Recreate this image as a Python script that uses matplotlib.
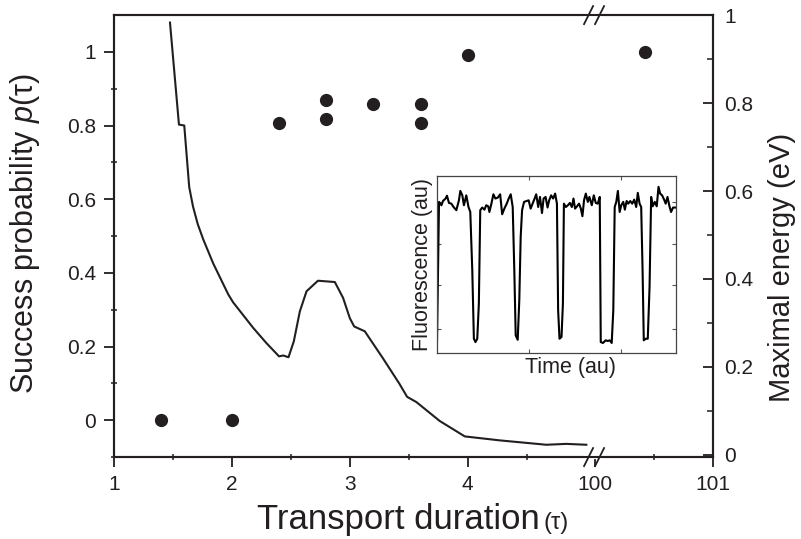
import numpy as np
import matplotlib
matplotlib.use('Agg')
import matplotlib.pyplot as plt
from matplotlib.ticker import FixedLocator, FuncFormatter

plt.rcParams['font.family'] = ['Liberation Sans', 'DejaVu Sans']
plt.rcParams['mathtext.fontset'] = 'custom'
plt.rcParams['mathtext.it'] = 'Liberation Sans:italic'
plt.rcParams['mathtext.rm'] = 'Liberation Sans'

INK = '#231f20'

# Erfolgssannolikhet (vänster axel)
tau_pts = [1.4, 2.0, 2.4, 2.8, 2.8, 3.2, 3.6, 3.6, 4.0, 100.42]
p_pts = [0.0, 0.0, 0.807, 0.87, 0.818, 0.858, 0.858, 0.807, 0.992, 1.0]
p_err = [0.0, 0.0, 0.012, 0.006, 0.006, 0.006, 0.006, 0.015, 0.006, 0.006]

# Maximal energi (höger axel)
tau_curve = [1.475, 1.551, 1.596, 1.638, 1.67, 1.71, 1.757, 1.842, 1.969, 2.01,
             2.18, 2.29, 2.40, 2.435, 2.48, 2.525, 2.576, 2.633, 2.73, 2.873,
             2.943, 3.0, 3.037, 3.127, 3.28, 3.42, 3.486, 3.565, 3.763, 3.975,
             4.27, 4.667, 4.836, 5.006]
energy = [0.983, 0.751, 0.749, 0.609, 0.565, 0.525, 0.49, 0.435, 0.365, 0.347,
          0.289, 0.255, 0.224, 0.226, 0.222, 0.258, 0.326, 0.372, 0.396, 0.393,
          0.357, 0.311, 0.292, 0.281, 0.22, 0.162, 0.132, 0.12, 0.077, 0.042,
          0.033, 0.023, 0.025, 0.023]

# Inset: fluorescens mot tid
t_in = [0, 1, 2.2, 3, 4.3, 5, 6, 7.2, 8.3, 9.7, 11, 11.7, 12.7, 13.5, 14.7, 15.8,
        16.7, 17.7, 18.5, 19.3, 20.2, 21, 21.7, 22.7, 23.8, 24.7, 25.7, 26.3, 27.3,
        28.3, 29.3, 30.5, 31.7, 32.7, 33.8, 35, 36, 37, 38, 38.8, 39.5, 40.5, 41.3,
        42, 42.7, 43.7, 45, 46, 47, 48, 49, 49.8, 50.8, 51.7, 52.7, 53.5, 54.5,
        55.5, 56.3, 57.3, 58.3, 59.3, 60.2, 60.8, 61.5, 62.5, 63.2, 63.7, 64.7,
        65.7, 66.7, 67.7, 68.5, 69.3, 70.3, 71.3, 72.2, 73, 73.8, 74.7, 75.7, 76.5,
        77.7, 78.7, 79.7, 80.7, 81.7, 82.2, 83.3, 84.7, 85.7, 86.7, 87.7, 88.5,
        89.2, 90, 90.8, 91.7, 92.5, 93.5, 94.3, 95.2, 96, 97, 98, 99, 100, 100.8,
        101.7, 102.5, 103.2, 103.8, 104.8, 105.8, 106.7, 107.5, 108.3, 109.3,
        110.3, 111.2, 112, 113, 114, 114.8, 115.7, 116.7, 117.5, 118.5, 119.7]
f_in = [0.07, 0.855, 0.836, 0.86, 0.874, 0.89, 0.849, 0.845, 0.826, 0.808, 0.864,
        0.917, 0.892, 0.836, 0.892, 0.826, 0.798, 0.468, 0.081, 0.062, 0.081, 0.279,
        0.808, 0.823, 0.811, 0.836, 0.83, 0.798, 0.845, 0.898, 0.874, 0.879, 0.898,
        0.785, 0.817, 0.845, 0.874, 0.898, 0.826, 0.468, 0.1, 0.075, 0.298, 0.657,
        0.808, 0.855, 0.86, 0.864, 0.817, 0.845, 0.874, 0.898, 0.826, 0.883, 0.792,
        0.874, 0.883, 0.823, 0.864, 0.892, 0.874, 0.902, 0.845, 0.242, 0.081, 0.091,
        0.279, 0.845, 0.826, 0.836, 0.849, 0.826, 0.874, 0.817, 0.83, 0.845, 0.817,
        0.774, 0.864, 0.902, 0.855, 0.883, 0.836, 0.892, 0.849, 0.845, 0.883, 0.062,
        0.057, 0.072, 0.068, 0.072, 0.057, 0.242, 0.826, 0.855, 0.917, 0.798, 0.836,
        0.855, 0.811, 0.86, 0.845, 0.86, 0.845, 0.868, 0.826, 0.906, 0.845, 0.826,
        0.468, 0.072, 0.081, 0.081, 0.374, 0.883, 0.83, 0.855, 0.83, 0.94, 0.902,
        0.892, 0.868, 0.845, 0.883, 0.83, 0.798, 0.823, 0.823]

x_major = [1, 2, 3, 4, 100, 101]
x_minor = [1.5, 2.5, 3.5, 4.5, 100.5]
y_major = [0, 0.2, 0.4, 0.6, 0.8, 1.0]
y_minor = [-0.1, 0.1, 0.3, 0.5, 0.7, 0.9]
e_major = [0, 0.2, 0.4, 0.6, 0.8, 1.0]
e_minor = [0.1, 0.3, 0.5, 0.7, 0.9]

# brytpunkt på x-axeln: 100 hamnar direkt efter ~5.08
XB = 5.08


def fwd(x):
    x = np.asarray(x, dtype=float)
    return np.where(x > 50, x - 100 + XB, x)


def inv(u):
    u = np.asarray(u, dtype=float)
    return np.where(u > XB, u - XB + 100, u)


fmt = FuncFormatter(lambda v, pos: '{:g}'.format(round(v, 3)))

fig = plt.figure(figsize=(8.01, 5.39), dpi=100)
ax = fig.add_axes([0.1423, 0.152, 0.7478, 0.820])
ax2 = ax.twinx()

ax.set_xscale('function', functions=(fwd, inv))
ax.set_xlim(1, 101)
ax.set_ylim(-0.1, 1.1)
ax2.set_ylim(-0.005, 1.0)

ax.errorbar(tau_pts, p_pts, yerr=p_err, fmt='o', color=INK, ms=8.5,
            elinewidth=1.0, capsize=0, zorder=3)
ax2.plot(tau_curve, energy, color=INK, lw=1.5)

for sp in list(ax.spines.values()) + list(ax2.spines.values()):
    sp.set_linewidth(1.5)
    sp.set_color(INK)

ax.xaxis.set_major_locator(FixedLocator(x_major))
ax.xaxis.set_minor_locator(FixedLocator(x_minor))
ax.xaxis.set_major_formatter(fmt)
ax.yaxis.set_major_locator(FixedLocator(y_major))
ax.yaxis.set_minor_locator(FixedLocator(y_minor))
ax.yaxis.set_major_formatter(fmt)
ax2.yaxis.set_major_locator(FixedLocator(e_major))
ax2.yaxis.set_minor_locator(FixedLocator(e_minor))
ax2.yaxis.set_major_formatter(fmt)

ax.tick_params(axis='both', which='major', direction='out', length=7, width=1.3,
               labelsize=15, colors=INK, pad=6)
ax.tick_params(axis='both', which='minor', direction='inout', length=4, width=1.1,
               colors=INK)
ax.tick_params(axis='x', top=False, which='both')
ax2.tick_params(axis='y', which='major', direction='in', length=7, width=1.3,
                labelsize=15, colors=INK, pad=8)
ax2.tick_params(axis='y', which='minor', direction='in', length=4, width=1.1,
                colors=INK)
# övre x-axelns streck ritas från tvillingaxeln, inåt
ax2.tick_params(axis='x', which='major', top=True, bottom=False, labeltop=False,
                labelbottom=False, direction='in', length=7, width=1.3, colors=INK)
ax2.tick_params(axis='x', which='minor', top=True, bottom=False, direction='in',
                length=4, width=1.1, colors=INK)

ax.set_ylabel(r'Success probability $p$(τ)', fontsize=22, color=INK)
ax.yaxis.set_label_coords(-0.12, 0.505)
ax.set_xlabel('Transport duration', fontsize=25, color=INK)
ax.xaxis.set_label_coords(0.474, -0.105)
ax.annotate('(τ)', xy=(1, 0), xycoords=ax.xaxis.label, xytext=(3, 2),
            textcoords='offset points', va='bottom', ha='left', fontsize=17,
            color=INK)
ax2.set_ylabel('Maximal energy (eV)', fontsize=21, color=INK)
ax2.yaxis.set_label_coords(1.092, 0.43)

# brytmarkeringar (//) på under- och överkant
bf = (fwd(100) - 1) / (fwd(101) - 1)
w_px, h_px = 599.0, 442.0
for yb in (0.0, 1.0):
    ax.plot([bf - 9 / w_px, bf + 5 / w_px], [yb, yb],
            transform=ax.transAxes, color='white', lw=3, clip_on=False, zorder=5)
    for off in (-6, 5):
        x0 = bf + (off - 5) / w_px
        x1 = bf + (off + 4) / w_px
        ax.plot([x0, x1], [yb - 9 / h_px, yb + 9 / h_px], transform=ax.transAxes,
                color=INK, lw=1.3, clip_on=False, zorder=6)

# inset
axi = fig.add_axes([0.5456, 0.345, 0.2984, 0.328])
axi.plot(t_in, f_in, color='black', lw=1.5)
axi.set_xlim(0, 120)
axi.set_ylim(0, 1)
axi.set_xticks([46.4, 92.4])
axi.set_yticks([0.138, 0.383, 0.619, 0.855])
axi.tick_params(which='both', direction='in', length=3, width=0.8, top=True,
                right=True, labelbottom=False, labelleft=False, colors='#555555')
for sp in axi.spines.values():
    sp.set_linewidth(0.9)
    sp.set_color('#444444')
axi.set_xlabel('Time (au)', fontsize=15.5, color=INK)
axi.xaxis.set_label_coords(0.56, -0.025, transform=axi.transAxes)
axi.xaxis.label.set_va('top')
axi.set_ylabel('Fluorescence (au)', fontsize=15.5, color=INK)
axi.yaxis.set_label_coords(-0.015, 0.5, transform=axi.transAxes)
axi.yaxis.label.set_va('bottom')

fig.savefig('out.png', dpi=100)
